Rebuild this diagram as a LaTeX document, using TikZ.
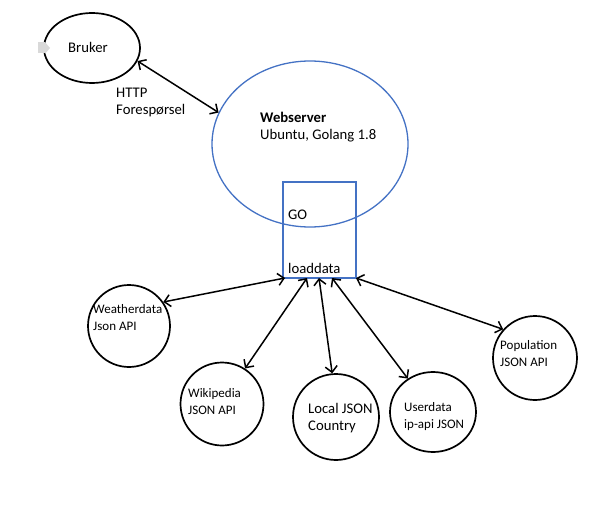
\documentclass[tikz,border=0pt]{standalone}
\usepackage{fontspec}
\setmainfont{Carlito}
\usetikzlibrary{shapes.geometric,arrows.meta}
\definecolor{msblue}{HTML}{4472C4}
\begin{document}
\begin{tikzpicture}[x=1pt,y=-1pt,
  every node/.style={font=\fontsize{13}{17}\selectfont},
  big/.style={font=\fontsize{14.7}{17}\selectfont},
  blob/.style={draw=black,line width=1.7pt,ellipse,inner sep=0pt},
  lbl/.style={anchor=west,inner sep=0pt,align=left},
  conn/.style={line width=1.5pt,{Straight Barb[length=6pt,width=12pt]}-{Straight Barb[length=6pt,width=12pt]}}]
\useasboundingbox (0,0) rectangle (602,524);
% nodes
\node[blob,minimum width=96pt,minimum height=70pt] (bruker) at (92,48) {};
\node[fill=black!15,inner sep=0pt,minimum width=7pt,minimum height=11pt] (tag) at (41.5,48) {};
\fill[black!15] (tag.north east) -- (50,48) -- (tag.south east) -- cycle;
\node[lbl,big] (brukert) at (68,47) {Bruker};
\node[draw=msblue,line width=1.3pt,ellipse,inner sep=0pt,minimum width=196pt,minimum height=166pt] (web) at (310,144) {};
\node[lbl,big] (webt) at (260,127) {\textbf{Webserver}\\Ubuntu, Golang 1.8};
\node[draw=msblue,line width=1.3pt,inner sep=0pt,minimum width=73pt,minimum height=96pt] (box) at (319.5,230) {};
\node[lbl,big] (got) at (288,215) {GO};
\node[lbl,big] (loadt) at (288,268) {loaddata};
\node[lbl,big] (httpt) at (116,102) {HTTP\\Forespørsel};
\node[blob,minimum size=82pt] (weather) at (129,326) {};
\node[lbl] (weathert) at (93,318) {Weatherdata\\Json API};
\node[blob,minimum size=83pt] (wiki) at (222,404) {};
\node[lbl] (wikit) at (188,402) {Wikipedia\\JSON API};
\node[blob,minimum size=86pt] (local) at (336,417) {};
\node[lbl,big] (localt) at (308,418) {Local JSON\\Country};
\node[blob,minimum width=86pt,minimum height=80pt] (user) at (433,412) {};
\node[lbl] (usert) at (404,417) {Userdata\\ip-api JSON};
\node[blob,minimum size=84pt] (pop) at (535,358) {};
\node[lbl] (popt) at (500,354) {Population\\JSON API};
% box attachment points
\coordinate (p1) at (285,278);
\coordinate (p2) at (307,278);
\coordinate (p3) at (319,278);
\coordinate (p4) at (332,278);
\coordinate (p5) at (356,278);
% connectors
\draw[conn] (bruker.-16) -- (web.161);
\draw[conn] (weather.35) -- (p1);
\draw[conn] (wiki.57) -- (p2);
\draw[conn] (local.95) -- (p3);
\draw[conn] (user.127) -- (p4);
\draw[conn] (pop.138) -- (p5);
\end{tikzpicture}
\end{document}
